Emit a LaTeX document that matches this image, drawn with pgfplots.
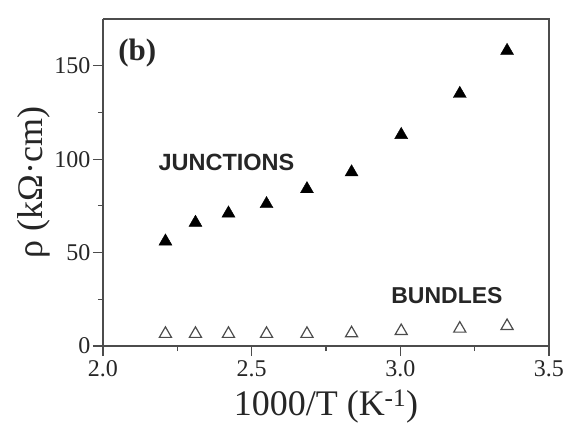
\documentclass[border=0pt]{standalone}
\usepackage{fontspec}
\setmainfont{Liberation Serif}
\newfontfamily\arialf{Liberation Sans}
\usepackage{pgfplots}
\pgfplotsset{compat=1.18}
\begin{document}
\begin{tikzpicture}
\begin{axis}[
  scale only axis, width=446pt, height=327pt,
  at={(0,0)}, anchor=south west,
  xmin=2.0, xmax=3.5, ymin=0, ymax=175,
  xtick={2.0,2.5,3.0,3.5}, ytick={0,50,100,150},
  minor xtick={2.25,2.75,3.25}, minor ytick={25,75,125},
  xticklabels={2.0,2.5,3.0,3.5},
  axis x line*=bottom, axis y line*=left,
  axis line style={black!70, line width=1.6pt, -},
  tick align=outside,
  major tick length=10pt, minor tick length=5pt,
  every tick/.style={black!70, line width=1.2pt},
  tick label style={font=\fontsize{24}{28}\selectfont, text=black!85},
  /pgf/number format/assume math mode=true,
  y tick label style={xshift=1pt},
  x tick label style={yshift=-1pt},
  xlabel={1000/T (K\textsuperscript{-1})},
  ylabel={ρ (kΩ·cm)},
  label style={font=\fontsize{36}{40}\selectfont, text=black!85},
  xlabel style={yshift=-6pt},
  ylabel style={yshift=-3pt},
  clip=false,
]
% top and right frame
\draw[black!70, line width=1.6pt] (rel axis cs:0,1) -- (rel axis cs:1,1) -- (rel axis cs:1,0);
\addplot[only marks, mark=triangle*, mark size=7.5pt, black] coordinates {
  (2.21,56) (2.311,66) (2.422,71) (2.55,76) (2.686,84) (2.836,93) (3.003,113) (3.200,135) (3.359,158)
};
\addplot[only marks, mark=triangle, mark size=7pt, black!70, mark options={line width=1.2pt}] coordinates {
  (2.21,6.5) (2.311,6.5) (2.422,6.5) (2.55,6.5) (2.686,6.5) (2.836,6.8) (3.003,8) (3.200,9.3) (3.359,10.7)
};
\node[anchor=west, font=\fontsize{31}{34}\selectfont\bfseries, text=black!85] at (axis cs:2.04,157) {(b)};
\node[anchor=west, font=\arialf\fontsize{23.5}{26}\selectfont\bfseries, text=black!85] at (axis cs:2.175,98.5) {JUNCTIONS};
\node[anchor=west, font=\arialf\fontsize{23}{26}\selectfont\bfseries, text=black!85] at (axis cs:2.958,27) {BUNDLES};
\end{axis}
\pgfresetboundingbox
\path (-103pt,-80pt) rectangle (468pt,346pt);
\end{tikzpicture}
\end{document}
